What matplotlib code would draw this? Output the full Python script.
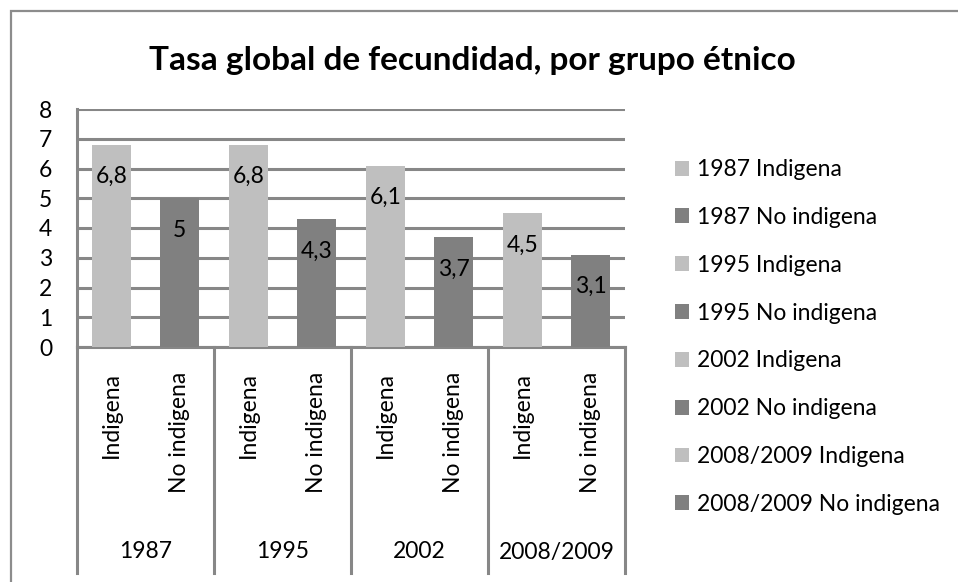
import matplotlib
matplotlib.use("Agg")
import matplotlib.pyplot as plt
from matplotlib.patches import Rectangle
from matplotlib.lines import Line2D
from matplotlib.transforms import blended_transform_factory

years = ["1987", "1995", "2002", "2008/2009"]
groups = ["Indigena", "No indigena"]
values = [6.8, 5.0, 6.8, 4.3, 6.1, 3.7, 4.5, 3.1]
value_labels = ["6,8", "5", "6,8", "4,3", "6,1", "3,7", "4,5", "3,1"]
series_names = [f"{y} {g}" for y in years for g in groups]
colors = ["#BFBFBF", "#808080"] * 4

W, H = 958, 582
plt.rcParams['font.family'] = ['Lato', 'DejaVu Sans']
fig = plt.figure(figsize=(W / 100, H / 100), dpi=100)

def fx(px):
    return px / W

def fy(py):
    return 1 - py / H

FS = 16.5
ax = fig.add_axes([fx(77), fy(347), fx(625) - fx(77), fy(109) - fy(347)])
grid_c = "#878787"

for i, (v, c, name) in enumerate(zip(values, colors, series_names)):
    ax.bar(i, v, width=0.57, color=c, label=name, zorder=3)
    ax.annotate(value_labels[i], (i, v), xytext=(0, -32), textcoords="offset pixels",
                ha="center", va="center", fontsize=FS, color="black", zorder=4)

ax.set_xlim(-0.5, 7.5)
ax.set_ylim(0, 8)
ax.set_yticks(range(0, 9))
ax.yaxis.grid(True, color=grid_c, linewidth=2.2, zorder=0)
ax.set_axisbelow(True)
for s in ["top", "right"]:
    ax.spines[s].set_visible(False)
for s in ["left", "bottom"]:
    ax.spines[s].set_color(grid_c)
    ax.spines[s].set_linewidth(2.2)
ax.tick_params(axis="y", length=0, labelsize=FS, pad=18)
ax.set_xticks(range(8))
ax.set_xticklabels(groups * 4, rotation=90, fontsize=FS)
ax.tick_params(axis="x", length=0, pad=18)

trans = blended_transform_factory(ax.transData, fig.transFigure)
for k in range(5):
    x = -0.5 + 2 * k
    ax.add_line(Line2D([x, x], [fy(347), fy(573)], transform=trans, color=grid_c,
                       linewidth=2.2, clip_on=False))
for k, y in enumerate(years):
    ax.text(0.5 + 2 * k, fy(552), y, transform=trans, ha="center", va="center", fontsize=FS)

fig.text(fx(472), fy(70), "Tasa global de fecundidad, por grupo étnico", ha="center",
         va="baseline", fontsize=24, fontweight="bold")

fig.legend(loc="upper left", bbox_to_anchor=(fx(666), fy(150)), frameon=False,
           fontsize=FS, handlelength=0.62, handleheight=0.62, handletextpad=0.32,
           labelspacing=1.17, borderaxespad=0)

fig.add_artist(Rectangle((fx(11), -0.1), 2, fy(11) + 0.1, transform=fig.transFigure,
                         fill=False, edgecolor="#8C8C8C", linewidth=1.6))

fig.savefig("out.png", dpi=100)
